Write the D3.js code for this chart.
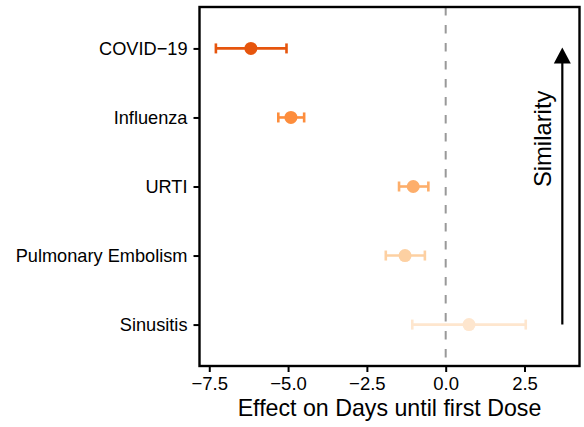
<!DOCTYPE html>
<html>
<head>
<meta charset="utf-8">
<script src="https://cdn.jsdelivr.net/npm/d3@7"></script>
<style>
  body { margin: 0; background: #fff; }
  svg { display: block; font-family: "Liberation Sans", Arial, Helvetica, sans-serif; }
  .axis text { fill: #000; }
  .axis line { stroke: #000; stroke-width: 2; }
</style>
</head>
<body>
<div id="chart-area"><svg></svg></div>
<script>
// data
const outcomes = ["COVID\u221219", "Influenza", "URTI", "Pulmonary Embolism", "Sinusitis"];
const estimates = [-6.18, -4.91, -1.03, -1.29, 0.74];
const lowers = [-7.29, -5.31, -1.48, -1.90, -1.06];
const uppers = [-5.05, -4.49, -0.55, -0.66, 2.54];
const colours = ["#e6550d", "#fd8d3c", "#fdae6b", "#fdd0a2", "#fee6ce"];
const xTicks = [-7.5, -5.0, -2.5, 0.0, 2.5];
const xDomain = [-7.81, 4.245];
const arrowX = 3.7;
const labelX = 3.34;

const chartSize = { width: 584, height: 427 };
const margin = { left: 199.5, right: 4.5, top: 7, bottom: 61 };
const width = chartSize.width - margin.left - margin.right;
const height = chartSize.height - margin.top - margin.bottom;

const svg = d3.select("#chart-area svg")
  .attr("width", chartSize.width)
  .attr("height", chartSize.height);

const g = svg.append("g")
  .attr("transform", `translate(${margin.left},${margin.top})`);

const x = d3.scaleLinear().domain(xDomain).range([0, width]);
const y = d3.scalePoint().domain(outcomes).range([0, height]).padding(0.6);

const rows = outcomes.map((name, i) => ({
  name, est: estimates[i], lo: lowers[i], hi: uppers[i], colour: colours[i]
}));

// reference line at zero
g.append("line")
  .attr("x1", x(0)).attr("x2", x(0))
  .attr("y1", 0).attr("y2", height)
  .attr("stroke", "#999")
  .attr("stroke-width", 2)
  .attr("stroke-dasharray", "8.5,9.5");

// error bars
const bars = g.selectAll(".bar").data(rows).enter().append("g").attr("class", "bar");
const cap = 5;
bars.append("line")
  .attr("x1", d => x(d.lo)).attr("x2", d => x(d.hi))
  .attr("y1", d => y(d.name)).attr("y2", d => y(d.name))
  .attr("stroke", d => d.colour).attr("stroke-width", 2.6);
bars.append("line")
  .attr("x1", d => x(d.lo)).attr("x2", d => x(d.lo))
  .attr("y1", d => y(d.name) - cap).attr("y2", d => y(d.name) + cap)
  .attr("stroke", d => d.colour).attr("stroke-width", 2.6);
bars.append("line")
  .attr("x1", d => x(d.hi)).attr("x2", d => x(d.hi))
  .attr("y1", d => y(d.name) - cap).attr("y2", d => y(d.name) + cap)
  .attr("stroke", d => d.colour).attr("stroke-width", 2.6);
bars.append("circle")
  .attr("cx", d => x(d.est)).attr("cy", d => y(d.name))
  .attr("r", 6.5)
  .attr("fill", d => d.colour);

// similarity arrow
const yTop = y(outcomes[0]);
const yBottom = y(outcomes[outcomes.length - 1]);
g.append("line")
  .attr("x1", x(arrowX)).attr("x2", x(arrowX))
  .attr("y1", yBottom).attr("y2", yTop + 14)
  .attr("stroke", "#000").attr("stroke-width", 2.2);
g.append("path")
  .attr("d", `M${x(arrowX)},${yTop - 1} l8.5,16 l-17,0 z`)
  .attr("fill", "#000");
const labelY = y(outcomes[1]) + 0.31 * y.step();
g.append("text")
  .attr("transform", `translate(${x(labelX)},${labelY}) rotate(-90)`)
  .attr("text-anchor", "middle")
  .attr("font-size", 23.8)
  .attr("fill", "#000")
  .text("Similarity");

// axes
const xAxis = d3.axisBottom(x)
  .tickValues(xTicks)
  .tickFormat(d3.format(".1f"))
  .tickSize(6).tickSizeOuter(0).tickPadding(5);
const xg = g.append("g").attr("class", "axis")
  .attr("transform", `translate(0,${height})`)
  .call(xAxis);
xg.select(".domain").remove();
xg.selectAll("text").attr("font-size", 18.5);

const yAxis = d3.axisLeft(y).tickSize(6).tickSizeOuter(0).tickPadding(6);
const yg = g.append("g").attr("class", "axis").call(yAxis);
yg.select(".domain").remove();
yg.selectAll("text").attr("font-size", 18.2);

// panel border
g.append("rect")
  .attr("width", width).attr("height", height)
  .attr("fill", "none")
  .attr("stroke", "#000")
  .attr("stroke-width", 2.4);

g.append("text")
  .attr("x", width / 2)
  .attr("y", height + 50)
  .attr("text-anchor", "middle")
  .attr("font-size", 23.2)
  .attr("fill", "#000")
  .text("Effect on Days until first Dose");
</script>
</body>
</html>
